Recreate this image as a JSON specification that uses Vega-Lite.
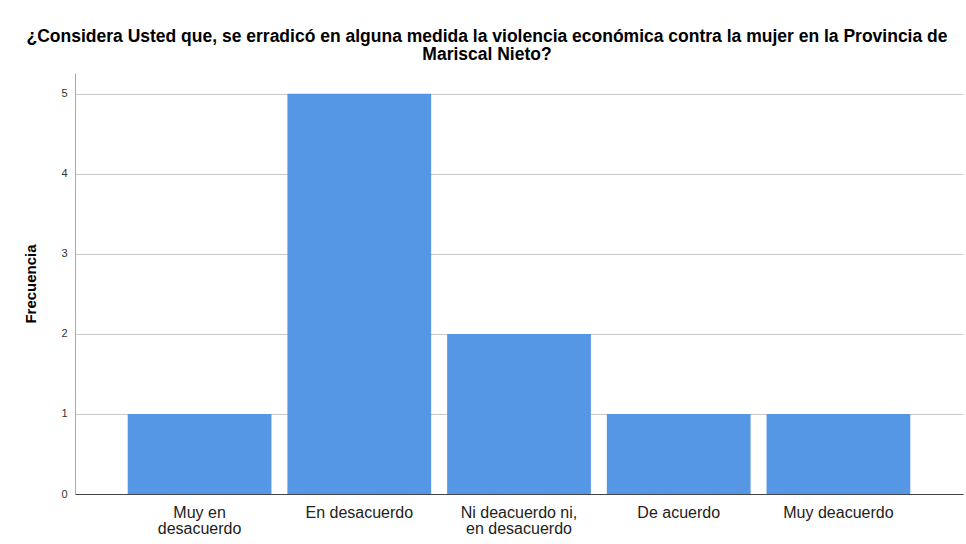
{
  "$schema": "https://vega.github.io/schema/vega-lite/v6.json",
  "autosize": "none",
  "width": 888,
  "height": 421,
  "padding": {"left": 75, "top": 73, "right": 3, "bottom": 50},
  "background": "white",
  "title": {
    "text": ["¿Considera Usted que, se erradicó en alguna medida la violencia económica contra la mujer en la Provincia de", "Mariscal Nieto?"],
    "font": "Liberation Sans",
    "fontSize": 17.5,
    "fontWeight": "bold",
    "color": "#000000",
    "anchor": "middle",
    "dx": -32,
    "offset": 10,
    "lineHeight": 18
  },
  "data": {
    "values": [
      {"respuesta": "Muy en desacuerdo", "frecuencia": 1},
      {"respuesta": "En desacuerdo", "frecuencia": 5},
      {"respuesta": "Ni deacuerdo ni, en desacuerdo", "frecuencia": 2},
      {"respuesta": "De acuerdo", "frecuencia": 1},
      {"respuesta": "Muy deacuerdo", "frecuencia": 1}
    ]
  },
  "mark": {"type": "bar", "color": "#5596E5"},
  "encoding": {
    "x": {
      "field": "respuesta",
      "type": "nominal",
      "sort": null,
      "scale": {"paddingInner": 0.1, "paddingOuter": 0.33},
      "axis": {
        "title": null,
        "labelAngle": 0,
        "labelFont": "Liberation Sans",
        "labelFontSize": 16,
        "labelColor": "#222222",
        "labelPadding": 10,
        "labelLineHeight": 16,
        "labelExpr": "datum.label == 'Muy en desacuerdo' ? ['Muy en', 'desacuerdo'] : datum.label == 'Ni deacuerdo ni, en desacuerdo' ? ['Ni deacuerdo ni,', 'en desacuerdo'] : datum.label",
        "ticks": false,
        "domainColor": "#444444",
        "domainWidth": 1,
        "grid": false
      }
    },
    "y": {
      "field": "frecuencia",
      "type": "quantitative",
      "scale": {"domain": [0, 5.26], "nice": false},
      "axis": {
        "title": "Frecuencia",
        "titleFont": "Liberation Sans",
        "titleFontSize": 15,
        "titleFontWeight": "bold",
        "titleColor": "#000000",
        "titlePadding": 22,
        "values": [0, 1, 2, 3, 4, 5],
        "format": "d",
        "labelFont": "Liberation Sans",
        "labelFontSize": 11,
        "labelColor": "#333333",
        "labelPadding": 8,
        "ticks": false,
        "domainColor": "#aaaaaa",
        "grid": true,
        "gridColor": "#c8c8c8",
        "gridWidth": 1
      }
    }
  },
  "config": {
    "view": {"stroke": null}
  }
}
